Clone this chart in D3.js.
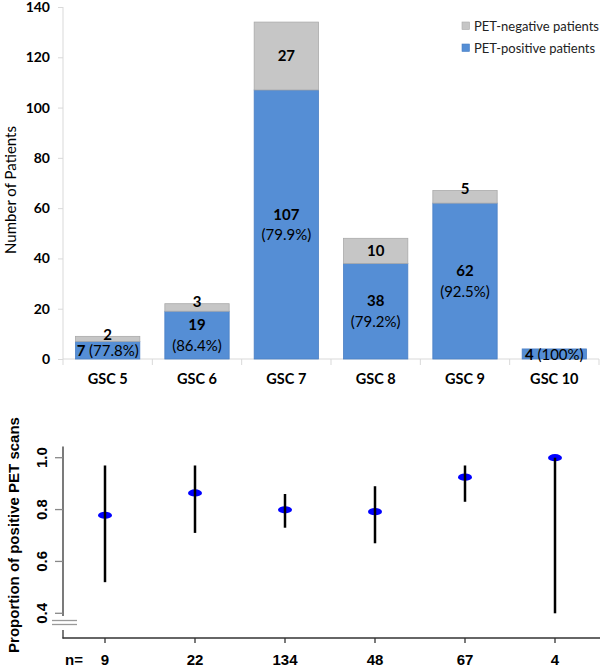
<!DOCTYPE html>
<html><head><meta charset="utf-8">
<script src="https://cdn.jsdelivr.net/npm/d3@7"></script>
<style>
body{margin:0;background:#fff;}
svg{display:block;}
</style>
</head><body>
<svg id="chart" width="609" height="672"></svg>
<script>
const categories = ["GSC 5","GSC 6","GSC 7","GSC 8","GSC 9","GSC 10"];
const positive = [7,19,107,38,62,4];
const negative = [2,3,27,10,5,0];
const pctLabels = ["77.8%","86.4%","79.9%","79.2%","92.5%","100%"];
const proportion = [0.778,0.864,0.799,0.792,0.925,1.0];
const ciLow = [0.52,0.71,0.73,0.67,0.83,0.40];
const ciHigh = [0.97,0.97,0.86,0.89,0.97,1.0];
const nLabels = ["9","22","134","48","67","4"];
const topTicks = [0,20,40,60,80,100,120,140];
const bottomTicks = [0.4,0.6,0.8,1.0];
const legendItems = ["PET-negative patients","PET-positive patients"];

const BLUE = "#558ed5", GRAY = "#c6c6c6";
const svg = d3.select("#chart");
const topFont = "Lato, 'Open Sans', sans-serif";
const botFont = "'Liberation Sans', Arial, sans-serif";

// ---------- TOP CHART ----------
const x = d3.scaleBand().domain(categories).range([63,599]).paddingInner(0.28).paddingOuter(0.14);
const y = d3.scaleLinear().domain([0,140]).range([359,7]);
const gTop = svg.append("g");

// y axis
const ya = gTop.append("g").attr("transform","translate(63,0)")
  .call(d3.axisLeft(y).tickValues(topTicks).tickSize(5).tickPadding(8));
ya.select(".domain").attr("stroke","#d9d9d9").attr("d","M0,7V359");
ya.selectAll(".tick line").attr("stroke","#d9d9d9");
ya.selectAll(".tick text").attr("font-family",topFont).attr("font-weight","bold")
  .attr("font-size","14px").attr("fill","#000");

// x axis baseline with boundary ticks
const bounds = d3.range(categories.length+1).map(i => 63 + i*(536/categories.length));
gTop.append("line").attr("x1",63).attr("x2",599).attr("y1",359).attr("y2",359).attr("stroke","#d9d9d9");
gTop.selectAll(".bt").data(bounds).join("line")
  .attr("x1",d=>d).attr("x2",d=>d).attr("y1",359).attr("y2",365).attr("stroke","#d9d9d9");
gTop.selectAll(".cl").data(categories).join("text")
  .attr("x",d=>x(d)+x.bandwidth()/2).attr("y",379).attr("dy","0.35em")
  .attr("text-anchor","middle").attr("font-family",topFont).attr("font-weight","bold")
  .attr("font-size","14.5px").text(d=>d);

// bars
const bw = x.bandwidth();
const LFS = "15px";
categories.forEach((c,i)=>{
  const x0 = x(c);
  gTop.append("rect").attr("x",x0).attr("width",bw)
    .attr("y",y(positive[i])).attr("height",y(0)-y(positive[i]))
    .attr("fill",BLUE).attr("stroke","#4a7fc4").attr("stroke-width",0.8);
  if(negative[i]>0){
    const segTop = y(positive[i]+negative[i]), segBot = y(positive[i]);
    gTop.append("rect").attr("x",x0).attr("width",bw)
      .attr("y",segTop).attr("height",segBot-segTop)
      .attr("fill",GRAY).attr("stroke","#aaaaaa").attr("stroke-width",0.8);
    const gy = (segBot-segTop) < 15 ? segTop-1.5 : (segTop+segBot)/2;
    gTop.append("text").attr("x",x0+bw/2).attr("y",gy).attr("dy","0.35em")
      .attr("text-anchor","middle").attr("font-family",topFont).attr("font-weight","bold")
      .attr("font-size",LFS).text(negative[i]);
  }
  const segH = y(0)-y(positive[i]);
  const cy = (y(0)+y(positive[i]))/2;
  if(segH < 40){
    const t = gTop.append("text").attr("x",x0+bw/2).attr("y",cy+0.5).attr("dy","0.35em")
      .attr("text-anchor","middle").attr("font-family",topFont).attr("font-size",LFS);
    t.append("tspan").attr("font-weight","bold").text(positive[i]+" ");
    t.append("tspan").text("("+pctLabels[i]+")");
  } else {
    gTop.append("text").attr("x",x0+bw/2).attr("y",cy-10).attr("dy","0.35em")
      .attr("text-anchor","middle").attr("font-family",topFont).attr("font-weight","bold")
      .attr("font-size",LFS).text(positive[i]);
    gTop.append("text").attr("x",x0+bw/2).attr("y",cy+10.5).attr("dy","0.35em")
      .attr("text-anchor","middle").attr("font-family",topFont)
      .attr("font-size",LFS).text("("+pctLabels[i]+")");
  }
});

// y title
gTop.append("text").attr("transform","translate(11,190) rotate(-90)").attr("dy","0.35em")
  .attr("text-anchor","middle").attr("font-family",topFont).attr("font-size","15px")
  .text("Number of Patients");

// legend
const legColors = [GRAY, BLUE], legStroke = ["#aaaaaa","#4a7fc4"];
legendItems.forEach((t,i)=>{
  const ly = 26 + i*22;
  gTop.append("rect").attr("x",462).attr("y",ly-4).attr("width",7.5).attr("height",7.5)
    .attr("fill",legColors[i]).attr("stroke",legStroke[i]).attr("stroke-width",0.6);
  gTop.append("text").attr("x",474).attr("y",ly).attr("dy","0.35em")
    .attr("font-family",topFont).attr("font-size","13px").attr("fill","#222").text(t);
});

// ---------- BOTTOM CHART ----------
const bx = d3.scalePoint().domain(categories).range([105,555]);
const by = d3.scaleLinear().domain([0.4,1.0]).range([613.3,457.7]);
const gBot = svg.append("g");

// axis lines
gBot.append("line").attr("x1",63).attr("x2",63).attr("y1",by(1.043)).attr("y2",616).attr("stroke","#333").attr("stroke-width",1.3);
gBot.append("line").attr("x1",63).attr("x2",63).attr("y1",630).attr("y2",638.5).attr("stroke","#333").attr("stroke-width",1.3);
[620.5,624.5].forEach(yy=>gBot.append("line").attr("x1",52).attr("x2",77).attr("y1",yy).attr("y2",yy).attr("stroke","#999").attr("stroke-width",1.3));
gBot.append("line").attr("x1",62.5).attr("x2",600).attr("y1",638).attr("y2",638).attr("stroke","#333").attr("stroke-width",1.3);

// y ticks
bottomTicks.forEach(v=>{
  gBot.append("line").attr("x1",55).attr("x2",63).attr("y1",by(v)).attr("y2",by(v)).attr("stroke","#888").attr("stroke-width",1.3);
  gBot.append("text").attr("transform",`translate(41.5,${by(v)}) rotate(-90)`).attr("dy","0.35em")
    .attr("text-anchor","middle").attr("font-family",botFont).attr("font-weight","bold")
    .attr("font-size","15px").text(v.toFixed(1));
});
// x ticks + n labels
categories.forEach((c,i)=>{
  gBot.append("line").attr("x1",bx(c)).attr("x2",bx(c)).attr("y1",638).attr("y2",643).attr("stroke","#333").attr("stroke-width",1.3);
  gBot.append("text").attr("x",bx(c)).attr("y",660).attr("dy","0.35em").attr("text-anchor","middle")
    .attr("font-family",botFont).attr("font-weight","bold").attr("font-size","15px").text(nLabels[i]);
});
gBot.append("text").attr("x",74).attr("y",660).attr("dy","0.35em").attr("text-anchor","middle")
  .attr("font-family",botFont).attr("font-weight","bold").attr("font-size","15px").text("n=");

// points and CI lines
categories.forEach((c,i)=>{
  gBot.append("ellipse").attr("cx",bx(c)).attr("cy",by(proportion[i])).attr("rx",7).attr("ry",3.6).attr("fill","#0000ff");
  gBot.append("line").attr("x1",bx(c)).attr("x2",bx(c)).attr("y1",by(ciHigh[i])).attr("y2",by(ciLow[i]))
    .attr("stroke","#000").attr("stroke-width",2.5);
});

// y title
gBot.append("text").attr("transform","translate(14,535) rotate(-90)").attr("dy","0.35em")
  .attr("text-anchor","middle").attr("font-family",botFont).attr("font-weight","bold")
  .attr("font-size","15px").text("Proportion of positive PET scans");
</script>
</body></html>
